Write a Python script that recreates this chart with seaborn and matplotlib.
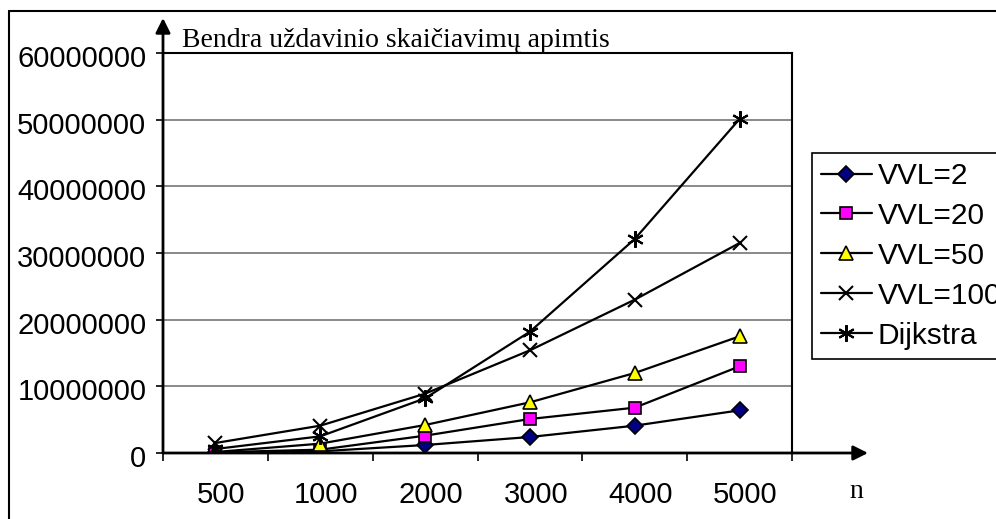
import matplotlib
matplotlib.use("Agg")
import matplotlib.pyplot as plt
from matplotlib.ticker import FixedLocator, FixedFormatter
from matplotlib.transforms import ScaledTranslation
import seaborn as sns
import pandas as pd

# Problem sizes (category axis)
n_labels = ["500", "1000", "2000", "3000", "4000", "5000"]

# Total computation volume for each method
vvl2 = [50000, 250000, 1200000, 2400000, 4100000, 6400000]
vvl20 = [100000, 500000, 2600000, 5100000, 6800000, 13000000]
vvl50 = [150000, 1400000, 4200000, 7600000, 12000000, 17500000]
vvl100 = [1500000, 4100000, 8900000, 15400000, 23000000, 31500000]
dijkstra = [600000, 2500000, 8200000, 18200000, 32100000, 50100000]

series_names = ["VVL=2", "VVL=20", "VVL=50", "VVL=100", "Dijkstra"]
series_values = [vvl2, vvl20, vvl50, vvl100, dijkstra]

y_ticks = [0, 10000000, 20000000, 30000000, 40000000, 50000000, 60000000]
title_text = "Bendra uždavinio skaičiavimų apimtis"
x_name = "n"

sns.set_theme(style="white")
plt.rcParams["font.family"] = ["Liberation Sans", "DejaVu Sans"]

W, H = 996, 519
fig = plt.figure(figsize=(W / 100, H / 100), dpi=100)
fig.patch.set_facecolor("white")

def fx(px):
    return px / W

def fy(py):
    return 1 - py / H

ax = fig.add_axes([fx(163), fy(453), fx(792) - fx(163), fy(53) - fy(453)])

rows = []
for name, vals in zip(series_names, series_values):
    for i, v in enumerate(vals):
        rows.append({"pos": i, "value": v, "series": name})
df = pd.DataFrame(rows)

styles = {
    "VVL=2": dict(marker="D", markerfacecolor="#000080", markeredgecolor="black", markersize=8, markeredgewidth=1.2),
    "VVL=20": dict(marker="s", markerfacecolor="#FF00FF", markeredgecolor="black", markersize=8, markeredgewidth=1.2),
    "VVL=50": dict(marker="^", markerfacecolor="#FFFF00", markeredgecolor="black", markersize=10, markeredgewidth=1.2),
    "VVL=100": dict(marker="x", markerfacecolor="black", markeredgecolor="black", markersize=10, markeredgewidth=1.5),
    "Dijkstra": dict(marker=(6, 2, 0), markerfacecolor="black", markeredgecolor="black", markersize=12, markeredgewidth=1.5),
}

for z, name in enumerate(series_names):
    sub = df[df["series"] == name]
    sns.lineplot(data=sub, x="pos", y="value", ax=ax, color="black", linewidth=1.6,
                 label=name, zorder=3 + z, **styles[name])

ax.set_xlim(-0.5, 5.5)
ax.set_ylim(0, 60000000)
ax.set_xlabel("")
ax.set_ylabel("")

# y axis: ticks on the left, plain integers
ax.yaxis.set_major_locator(FixedLocator(y_ticks))
ax.yaxis.set_major_formatter(FixedFormatter([str(t) for t in y_ticks]))
ax.tick_params(axis="y", which="major", left=True, length=5, width=1.2, color="black",
               pad=7, labelsize=21, labelcolor="black")
for lab in ax.get_yticklabels():
    lab.set_transform(lab.get_transform() + ScaledTranslation(0, -3 / 100, fig.dpi_scale_trans))

# x axis: tick marks between categories, labels centred on categories
ax.xaxis.set_major_locator(FixedLocator([i - 0.5 for i in range(len(n_labels) + 1)]))
ax.xaxis.set_major_formatter(FixedFormatter([""] * (len(n_labels) + 1)))
ax.xaxis.set_minor_locator(FixedLocator(list(range(len(n_labels)))))
ax.xaxis.set_minor_formatter(FixedFormatter(n_labels))
ax.tick_params(axis="x", which="major", bottom=True, length=6, width=1.2, color="black")
ax.tick_params(axis="x", which="minor", bottom=False, length=0, pad=20, labelsize=21,
               labelcolor="black")
for lab in ax.get_xminorticklabels():
    lab.set_transform(lab.get_transform() + ScaledTranslation(6 / 100, 0, fig.dpi_scale_trans))

# horizontal gridlines
for t in y_ticks[1:-1]:
    ax.axhline(t, color="#808080", linewidth=1.3, zorder=1)

for side in ["top", "right"]:
    ax.spines[side].set_color("black")
    ax.spines[side].set_linewidth(1.5)
ax.spines["left"].set_visible(False)
ax.spines["bottom"].set_visible(False)

# axis arrows
arrow_kw = dict(arrowstyle="-|>", color="black", lw=2, mutation_scale=22,
                shrinkA=0, shrinkB=0)
fig.patches.append(matplotlib.patches.FancyArrowPatch(
    (fx(163), fy(453)), (fx(163), fy(18)), transform=fig.transFigure, **arrow_kw))
fig.patches.append(matplotlib.patches.FancyArrowPatch(
    (fx(163), fy(453)), (fx(868), fy(453)), transform=fig.transFigure, **arrow_kw))

fig.text(fx(182), fy(47), title_text, family=["Liberation Serif", "DejaVu Serif"],
         fontsize=20, ha="left", va="baseline", color="black")
fig.text(fx(856), fy(491), x_name, family=["Liberation Serif", "DejaVu Serif"],
         fontsize=20, ha="center", va="center", color="black")

# outer frame of the chart area
fig.add_artist(matplotlib.lines.Line2D([fx(9), fx(996)], [fy(11), fy(11)],
                                       transform=fig.transFigure, color="black", lw=1.5))
fig.add_artist(matplotlib.lines.Line2D([fx(9), fx(9)], [fy(11), fy(519)],
                                       transform=fig.transFigure, color="black", lw=1.5))

leg = ax.legend(loc="upper left", bbox_to_anchor=(fx(812), fy(153)),
                bbox_transform=fig.transFigure, borderaxespad=0, fontsize=21.5,
                frameon=True, fancybox=False, shadow=False, handlelength=1.7,
                handletextpad=0.2, labelspacing=0.4, borderpad=0.3)
leg.get_frame().set_edgecolor("black")
leg.get_frame().set_linewidth(1.2)
leg.get_frame().set_facecolor("white")
leg.get_frame().set_alpha(1)
for t in leg.get_texts():
    t.set_color("black")

fig.savefig("out.png", dpi=100)
